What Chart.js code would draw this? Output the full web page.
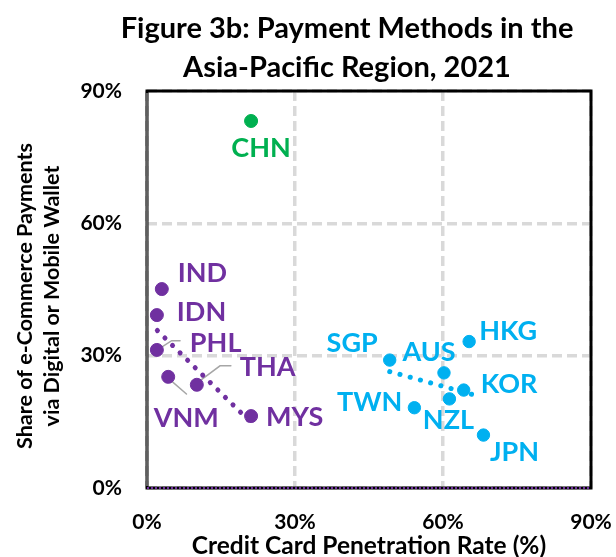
<!DOCTYPE html>
<html>
<head>
<meta charset="utf-8">
<script src="https://cdn.jsdelivr.net/npm/chart.js@4.4.1/dist/chart.umd.min.js"></script>
<style>
  html, body { margin: 0; padding: 0; background: #fff; }
</style>
</head>
<body>
<canvas id="chart" width="616" height="557"></canvas>
<script>
// values (percent)
const chnNames = ["CHN"];
const chnCard = [21.1];
const chnWallet = [83.2];

const seaNames = ["IND", "IDN", "PHL", "VNM", "THA", "MYS"];
const seaCard = [3.0, 2.0, 2.0, 4.3, 10.1, 21.1];
const seaWallet = [45.1, 39.2, 31.3, 25.2, 23.4, 16.3];

const devNames = ["SGP", "AUS", "HKG", "KOR", "NZL", "TWN", "JPN"];
const devCard = [49.2, 60.2, 65.3, 64.2, 61.3, 54.2, 68.2];
const devWallet = [29.0, 26.1, 33.2, 22.2, 20.2, 18.2, 12.0];

// dotted trend lines, end points
const seaTrendCard = [2.1, 21.2];
const seaTrendWallet = [35.7, 14.7];
const devTrendCard = [49.2, 66.3];
const devTrendWallet = [26.4, 21.1];

// leader lines from labels to points
const phlLeaderCard = [2.1, 5.0, 6.7];
const phlLeaderWallet = [31.3, 33.4, 33.4];
const thaLeaderCard = [10.5, 14.8, 17.0];
const thaLeaderWallet = [24.1, 27.7, 27.7];
const vnmLeaderCard = [4.7, 8.0];
const vnmLeaderWallet = [24.5, 21.3];

const xTicks = [0, 30, 60, 90];
const yTicks = [0, 30, 60, 90];

const GREEN = "#00b050";
const PURPLE = "#7030a0";
const BLUE = "#00b0f0";
const FONT = "Lato";

const toPoints = (xs, ys) => xs.map((x, i) => ({ x: x, y: ys[i] }));

// where each label sits relative to its point (px)
const labelPos = {
  CHN: { dx: 10, dy: 27, align: "center" },
  IND: { dx: 16, dy: -16, align: "left" },
  IDN: { dx: 20, dy: -3, align: "left" },
  PHL: { dx: 33, dy: -7, align: "left" },
  VNM: { dx: 18, dy: 41, align: "center" },
  THA: { dx: 43, dy: -17, align: "left" },
  MYS: { dx: 15, dy: 1, align: "left" },
  SGP: { dx: -12, dy: -17, align: "right" },
  AUS: { dx: -15, dy: -21, align: "center" },
  HKG: { dx: 10, dy: -10, align: "left" },
  KOR: { dx: 17, dy: -6, align: "left" },
  NZL: { dx: -1, dy: 21, align: "center" },
  TWN: { dx: -12, dy: -5, align: "right" },
  JPN: { dx: 31, dy: 17, align: "center" }
};

const textLayer = {
  id: "textLayer",
  afterDatasetsDraw(chart) {
    const ctx = chart.ctx;
    const area = chart.chartArea;
    ctx.save();

    // plot frame
    ctx.strokeStyle = "#000";
    ctx.lineWidth = 3;
    ctx.strokeRect(area.left, area.top, area.right - area.left, area.bottom - area.top);
    ctx.strokeStyle = "#bfbfbf";
    ctx.lineWidth = 1;
    ctx.beginPath();
    ctx.moveTo(area.left, area.top + 2);
    ctx.lineTo(area.left, area.bottom - 2);
    ctx.stroke();
    ctx.strokeStyle = PURPLE;
    ctx.lineWidth = 2;
    ctx.setLineDash([2, 2]);
    ctx.beginPath();
    ctx.moveTo(area.left, area.bottom);
    ctx.lineTo(area.right, area.bottom);
    ctx.stroke();
    ctx.setLineDash([]);

    // point labels
    ctx.font = "bold 27px " + FONT;
    ctx.textBaseline = "middle";
    chart.data.datasets.forEach((ds, di) => {
      if (!ds.names) return;
      const meta = chart.getDatasetMeta(di);
      ds.names.forEach((name, i) => {
        const p = meta.data[i];
        const pos = labelPos[name];
        ctx.fillStyle = ds.backgroundColor;
        ctx.textAlign = pos.align;
        ctx.fillText(name, p.x + pos.dx, p.y + pos.dy);
      });
    });

    // chart title
    ctx.fillStyle = "#000";
    ctx.textAlign = "center";
    ctx.font = "bold 29px " + FONT;
    ctx.fillText("Figure 3b: Payment Methods in the", 347, 29);
    ctx.fillText("Asia-Pacific Region, 2021", 347, 68);

    // axis titles
    ctx.font = "bold 24.5px " + FONT;
    ctx.fillText("Credit Card Penetration Rate (%)", (area.left + area.right) / 2, 546);
    ctx.font = "bold 21.5px " + FONT;
    ctx.translate(0, 296);
    ctx.rotate(-Math.PI / 2);
    ctx.fillText("Share of e-Commerce Payments", 0, 25);
    ctx.fillText("via Digital or Mobile Wallet", 0, 52);
    ctx.restore();
  }
};

const pointStyle = (color, r) => ({
  backgroundColor: color,
  borderColor: color,
  pointRadius: r,
  pointHoverRadius: r,
  showLine: false
});

const lineStyle = (color, width, dash) => ({
  borderColor: color,
  backgroundColor: color,
  borderWidth: width,
  borderDash: dash,
  borderCapStyle: "round",
  pointRadius: 0,
  showLine: true,
  fill: false
});

const gridOpts = { color: "#d9d9d9", lineWidth: 3.5, drawTicks: false };
const borderOpts = { display: false, dash: [10, 5] };

new Chart(document.getElementById("chart"), {
  type: "scatter",
  data: {
    datasets: [
      Object.assign({ names: chnNames, data: toPoints(chnCard, chnWallet) }, pointStyle(GREEN, 6.5)),
      Object.assign({ names: seaNames, data: toPoints(seaCard, seaWallet) }, pointStyle(PURPLE, 6.5)),
      Object.assign({ names: devNames, data: toPoints(devCard, devWallet) }, pointStyle(BLUE, 6.2)),
      Object.assign({ data: toPoints(seaTrendCard, seaTrendWallet) }, lineStyle(PURPLE, 5, [0.1, 10.5])),
      Object.assign({ data: toPoints(devTrendCard, devTrendWallet) }, lineStyle(BLUE, 5, [0.1, 10.5])),
      Object.assign({ data: toPoints(phlLeaderCard, phlLeaderWallet) }, lineStyle("#a6a6a6", 1.5, [])),
      Object.assign({ data: toPoints(thaLeaderCard, thaLeaderWallet) }, lineStyle("#a6a6a6", 1.5, [])),
      Object.assign({ data: toPoints(vnmLeaderCard, vnmLeaderWallet) }, lineStyle("#a6a6a6", 1.5, []))
    ]
  },
  options: {
    responsive: false,
    animation: false,
    layout: { padding: { top: 91, right: 25, left: 0, bottom: 0 } },
    plugins: {
      legend: { display: false },
      tooltip: { enabled: false }
    },
    scales: {
      x: {
        min: 0,
        max: 90,
        afterFit: (scale) => {
          scale.height = 69;
          scale.paddingLeft = 0;
          scale.paddingRight = 0;
        },
        afterBuildTicks: (scale) => { scale.ticks = xTicks.map(v => ({ value: v })); },
        border: borderOpts,
        grid: gridOpts,
        ticks: {
          padding: 22,
          color: "#000",
          font: { family: FONT, size: 21, weight: "bold" },
          callback: (v) => v + "%"
        }
      },
      y: {
        min: 0,
        max: 90,
        afterFit: (scale) => {
          scale.width = 147;
          scale.paddingTop = 0;
          scale.paddingBottom = 0;
        },
        afterBuildTicks: (scale) => { scale.ticks = yTicks.map(v => ({ value: v })); },
        border: borderOpts,
        grid: gridOpts,
        ticks: {
          padding: 25,
          color: "#000",
          font: { family: FONT, size: 21, weight: "bold" },
          callback: (v) => v + "%"
        }
      }
    }
  },
  plugins: [textLayer]
});
</script>
</body>
</html>
